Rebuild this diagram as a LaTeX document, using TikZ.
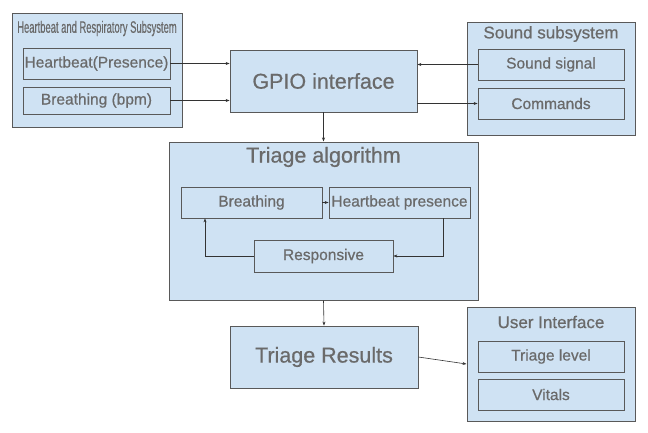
\documentclass[tikz,border=0pt]{standalone}
\usepackage{fontspec}
\setmainfont{Liberation Sans}[FakeBold=0.6]
\usetikzlibrary{arrows.meta}
\definecolor{boxfill}{HTML}{CFE2F3}
\definecolor{boxline}{HTML}{595959}
\definecolor{txt}{HTML}{6A6A6A}
\tikzset{
  outerbox/.style={draw=boxline, line width=1pt, fill=boxfill, inner sep=0pt},
  innerbox/.style={draw=boxline, line width=0.8pt, fill=boxfill, inner sep=0pt, text=txt},
  bigtxt/.style={font=\fontsize{21.5}{24}\selectfont},
  midtxt/.style={font=\fontsize{17}{19}\selectfont},
  smalltxt/.style={font=\fontsize{15.5}{18}\selectfont},
  ttl/.style={text=txt, inner sep=0pt},
  conn/.style={draw=black!80, line width=0.6pt, -{Stealth[length=4pt,width=3pt]}},
}
\begin{document}
\begin{tikzpicture}[x=1pt,y=-1pt]
\useasboundingbox[fill=white] (0,0) rectangle (648,432);

% Left subsystem
\node[outerbox, minimum width=170pt, minimum height=114pt] (L) at (97,70) {};
\node[ttl, font=\fontsize{16.5}{18}\selectfont] (Lt) at (97,28.5) {\scalebox{0.57}[1]{Heartbeat and Respiratory Subsystem}};
\node[innerbox, smalltxt, minimum width=147pt, minimum height=31pt] (HP) at (96.5,63.5) {Heartbeat(Presence)};
\node[innerbox, smalltxt, minimum width=147pt, minimum height=27pt] (BR) at (96.5,100.5) {Breathing (bpm)};

% GPIO
\node[innerbox, bigtxt, minimum width=187pt, minimum height=62pt] (GPIO) at (323.5,81) {GPIO interface};

% Sound subsystem
\node[outerbox, minimum width=168pt, minimum height=113pt] (S) at (551,78.5) {};
\node[ttl, midtxt] (St) at (551,34) {Sound subsystem};
\node[innerbox, smalltxt, minimum width=146pt, minimum height=31pt] (SS) at (551,64.5) {Sound signal};
\node[innerbox, smalltxt, minimum width=146pt, minimum height=31pt] (CMD) at (551,103.5) {Commands};

% Triage algorithm
\node[outerbox, minimum width=309pt, minimum height=158pt] (TA) at (323.5,221) {};
\node[ttl, bigtxt] (TAt) at (323.5,157) {Triage algorithm};
\node[innerbox, smalltxt, minimum width=141pt, minimum height=31pt] (BRE) at (251.5,202.5) {Breathing};
\node[innerbox, smalltxt, minimum width=141pt, minimum height=31pt] (HBP) at (399.5,202.5) {Heartbeat presence};
\node[innerbox, smalltxt, minimum width=139pt, minimum height=32pt] (RESP) at (323.5,256) {Responsive};

% Triage results
\node[innerbox, bigtxt, minimum width=188pt, minimum height=62pt] (TR) at (324,357) {Triage Results};

% User interface
\node[outerbox, minimum width=168pt, minimum height=114pt] (UI) at (551,364) {};
\node[ttl, midtxt] (UIt) at (551,322) {User Interface};
\node[innerbox, smalltxt, minimum width=146pt, minimum height=31pt] (TL) at (551,356.5) {Triage level};
\node[innerbox, smalltxt, minimum width=146pt, minimum height=31pt] (VIT) at (551,394.5) {Vitals};

% Connectors
\draw[conn] (HP.east) -- (GPIO.west |- HP.east);
\draw[conn] (BR.east) -- (GPIO.west |- BR.east);
\draw[conn] (SS.west) -- (GPIO.east |- SS.west);
\draw[conn] (GPIO.east |- CMD.west) -- (CMD.west);
\draw[conn] (GPIO.south) -- (TA.north);
\draw[conn] (BRE.east) -- (HBP.west);
\draw[conn] ([xshift=43.5pt]HBP.south) |- (RESP.east);
\draw[conn] (RESP.west) -| ([xshift=-46.5pt]BRE.south);
\draw[conn] (TA.south) -- (TR.north);
\draw[conn] (TR.east) -- (UI.west);
\end{tikzpicture}
\end{document}
